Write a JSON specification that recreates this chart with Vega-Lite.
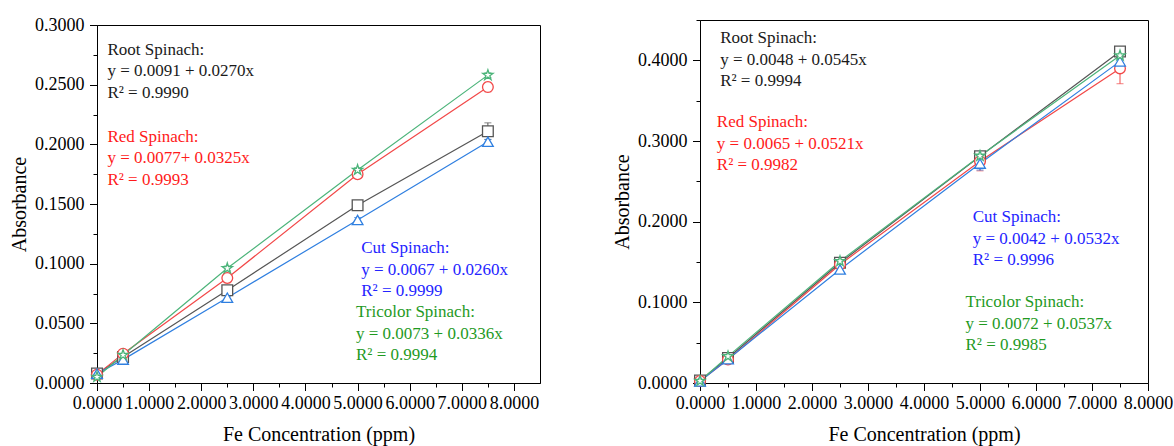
{
  "$schema": "https://vega.github.io/schema/vega-lite/v6.json",
  "background": "white",
  "padding": {"left": 9, "top": 10, "right": 5, "bottom": 5},
  "spacing": 71,
  "config": {
    "font": "Liberation Serif",
    "view": {"stroke": "black", "strokeWidth": 1},
    "axis": {
      "labelFont": "Liberation Serif", "labelFontSize": 18, "labelColor": "black",
      "titleFont": "Liberation Serif", "titleFontSize": 20, "titleFontWeight": "normal", "titleColor": "black",
      "tickColor": "black", "domainColor": "black", "grid": false,
      "labelOverlap": false, "labelFlush": false, "labelBound": false
    },
    "axisX": {"titlePadding": 12, "labelPadding": 4},
    "axisY": {"titlePadding": 5, "labelPadding": 5.5}
  },
  "datasets": {
    "pts": [
      {"panel": "A", "series": "Root", "conc": 0, "abs": 0.008, "lo": 0.007, "hi": 0.009},
      {"panel": "A", "series": "Root", "conc": 0.5, "abs": 0.0218, "lo": 0.0208, "hi": 0.0228},
      {"panel": "A", "series": "Root", "conc": 2.5, "abs": 0.0777, "lo": 0.0757, "hi": 0.0797},
      {"panel": "A", "series": "Root", "conc": 5, "abs": 0.149, "lo": 0.147, "hi": 0.151},
      {"panel": "A", "series": "Root", "conc": 7.5, "abs": 0.211, "lo": 0.204, "hi": 0.218},
      {"panel": "A", "series": "Red", "conc": 0, "abs": 0.007, "lo": 0.006, "hi": 0.008},
      {"panel": "A", "series": "Red", "conc": 0.5, "abs": 0.0246, "lo": 0.0226, "hi": 0.0266},
      {"panel": "A", "series": "Red", "conc": 2.5, "abs": 0.088, "lo": 0.084, "hi": 0.092},
      {"panel": "A", "series": "Red", "conc": 5, "abs": 0.175, "lo": 0.172, "hi": 0.178},
      {"panel": "A", "series": "Red", "conc": 7.5, "abs": 0.248, "lo": 0.244, "hi": 0.252},
      {"panel": "A", "series": "Cut", "conc": 0, "abs": 0.0078, "lo": 0.0068, "hi": 0.0088},
      {"panel": "A", "series": "Cut", "conc": 0.5, "abs": 0.0196, "lo": 0.0186, "hi": 0.0206},
      {"panel": "A", "series": "Cut", "conc": 2.5, "abs": 0.0715, "lo": 0.0695, "hi": 0.0735},
      {"panel": "A", "series": "Cut", "conc": 5, "abs": 0.1366, "lo": 0.1346, "hi": 0.1386},
      {"panel": "A", "series": "Cut", "conc": 7.5, "abs": 0.2022, "lo": 0.2002, "hi": 0.2042},
      {"panel": "A", "series": "Tricolor", "conc": 0, "abs": 0.005, "lo": 0.004, "hi": 0.006},
      {"panel": "A", "series": "Tricolor", "conc": 0.5, "abs": 0.0235, "lo": 0.0215, "hi": 0.0255},
      {"panel": "A", "series": "Tricolor", "conc": 2.5, "abs": 0.0961, "lo": 0.0941, "hi": 0.0981},
      {"panel": "A", "series": "Tricolor", "conc": 5, "abs": 0.1785, "lo": 0.1765, "hi": 0.1805},
      {"panel": "A", "series": "Tricolor", "conc": 7.5, "abs": 0.258, "lo": 0.256, "hi": 0.26},
      {"panel": "B", "series": "Root", "conc": 0, "abs": 0.003, "lo": 0.002, "hi": 0.004},
      {"panel": "B", "series": "Root", "conc": 0.5, "abs": 0.031, "lo": 0.029, "hi": 0.033},
      {"panel": "B", "series": "Root", "conc": 2.5, "abs": 0.149, "lo": 0.147, "hi": 0.151},
      {"panel": "B", "series": "Root", "conc": 5, "abs": 0.281, "lo": 0.278, "hi": 0.284},
      {"panel": "B", "series": "Root", "conc": 7.5, "abs": 0.411, "lo": 0.408, "hi": 0.414},
      {"panel": "B", "series": "Red", "conc": 0, "abs": 0.0025, "lo": 0.0005, "hi": 0.0045},
      {"panel": "B", "series": "Red", "conc": 0.5, "abs": 0.029, "lo": 0.027, "hi": 0.031},
      {"panel": "B", "series": "Red", "conc": 2.5, "abs": 0.147, "lo": 0.145, "hi": 0.149},
      {"panel": "B", "series": "Red", "conc": 5, "abs": 0.275, "lo": 0.263, "hi": 0.287},
      {"panel": "B", "series": "Red", "conc": 7.5, "abs": 0.39, "lo": 0.371, "hi": 0.409},
      {"panel": "B", "series": "Cut", "conc": 0, "abs": 0.002, "lo": 0.001, "hi": 0.003},
      {"panel": "B", "series": "Cut", "conc": 0.5, "abs": 0.0295, "lo": 0.0275, "hi": 0.0315},
      {"panel": "B", "series": "Cut", "conc": 2.5, "abs": 0.1408, "lo": 0.1388, "hi": 0.1428},
      {"panel": "B", "series": "Cut", "conc": 5, "abs": 0.272, "lo": 0.264, "hi": 0.28},
      {"panel": "B", "series": "Cut", "conc": 7.5, "abs": 0.3987, "lo": 0.3957, "hi": 0.4017},
      {"panel": "B", "series": "Tricolor", "conc": 0, "abs": 0.0025, "lo": 0.0015, "hi": 0.0035},
      {"panel": "B", "series": "Tricolor", "conc": 0.5, "abs": 0.033, "lo": 0.031, "hi": 0.035},
      {"panel": "B", "series": "Tricolor", "conc": 2.5, "abs": 0.151, "lo": 0.149, "hi": 0.153},
      {"panel": "B", "series": "Tricolor", "conc": 5, "abs": 0.2815, "lo": 0.2785, "hi": 0.2845},
      {"panel": "B", "series": "Tricolor", "conc": 7.5, "abs": 0.406, "lo": 0.403, "hi": 0.409}
    ],
    "ann": [
      {"panel": "A", "series": "Root", "conc": 0.2, "abs": 0.2858, "text": "Root Spinach:\ny = 0.0091 + 0.0270x\nR² = 0.9990"},
      {"panel": "A", "series": "Red", "conc": 0.2, "abs": 0.2129, "text": "Red Spinach:\ny = 0.0077+ 0.0325x\nR² = 0.9993"},
      {"panel": "A", "series": "Cut", "conc": 5.07, "abs": 0.1198, "text": "Cut Spinach:\ny = 0.0067 + 0.0260x\nR² = 0.9999"},
      {"panel": "A", "series": "Tricolor", "conc": 4.97, "abs": 0.0662, "text": "Tricolor Spinach:\ny = 0.0073 + 0.0336x\nR² = 0.9994"},
      {"panel": "B", "series": "Root", "conc": 0.36, "abs": 0.4372, "text": "Root Spinach:\ny = 0.0048 + 0.0545x\nR² = 0.9994"},
      {"panel": "B", "series": "Red", "conc": 0.3, "abs": 0.3331, "text": "Red Spinach:\ny = 0.0065 + 0.0521x\nR² = 0.9982"},
      {"panel": "B", "series": "Cut", "conc": 4.87, "abs": 0.2155, "text": "Cut Spinach:\ny = 0.0042 + 0.0532x\nR² = 0.9996"},
      {"panel": "B", "series": "Tricolor", "conc": 4.74, "abs": 0.1102, "text": "Tricolor Spinach:\ny = 0.0072 + 0.0537x\nR² = 0.9985"}
    ],
    "blank": [{"k": 1}]
  },
  "hconcat": [
    {
      "vconcat": [
        {
          "width": 443, "height": 1,
          "view": {"stroke": null},
          "data": {"name": "blank"},
          "mark": {"type": "point", "opacity": 0},
          "encoding": {}
        },
        {
          "width": 443, "height": 358,
          "encoding": {
            "x": {"field": "conc", "type": "quantitative", "scale": {"domain": [0, 8.5], "nice": false, "zero": false},
                  "axis": {"values": [0, 0.5, 1, 1.5, 2, 2.5, 3, 3.5, 4, 4.5, 5, 5.5, 6, 6.5, 7, 7.5, 8],
                           "labelExpr": "round(datum.value * 2) % 2 == 0 ? format(datum.value, '.4f') : ''",
                           "tickSize": {"condition": {"test": "round(datum.value * 2) % 2 == 0", "value": 7.5}, "value": 4},
                           "title": "Fe Concentration (ppm)"}},
            "y": {"field": "abs", "type": "quantitative", "scale": {"domain": [0, 0.3], "nice": false},
                  "axis": {"values": [0, 0.025, 0.05, 0.075, 0.1, 0.125, 0.15, 0.175, 0.2, 0.225, 0.25, 0.275, 0.3],
                           "labelExpr": "round(datum.value * 40) % 2 == 0 ? format(datum.value, '.4f') : ''",
                           "tickSize": {"condition": {"test": "round(datum.value * 40) % 2 == 0", "value": 7.5}, "value": 4},
                           "title": "Absorbance"}}
          },
          "layer": [
            {
              "data": {"name": "pts"},
              "transform": [{"filter": "datum.panel == 'A'"}],
              "mark": {"type": "line", "strokeWidth": 1.2},
              "encoding": {
                "stroke": {"field": "series", "type": "nominal", "legend": null,
                           "scale": {"domain": ["Root", "Red", "Cut", "Tricolor"], "range": ["#555555", "#f24848", "#2f7fe0", "#4cb47a"]}}
              }
            },
            {
              "data": {"name": "pts"},
              "transform": [{"filter": "datum.panel == 'A'"}],
              "mark": {"type": "rule", "strokeWidth": 1},
              "encoding": {
                "y": {"field": "lo", "type": "quantitative"},
                "y2": {"field": "hi"},
                "stroke": {"field": "series", "type": "nominal", "legend": null}
              }
            },
            {
              "data": {"name": "pts"},
              "transform": [{"filter": "datum.panel == 'A'"}],
              "mark": {"type": "point", "shape": "stroke", "size": 49, "strokeWidth": 1},
              "encoding": {
                "y": {"field": "lo", "type": "quantitative"},
                "stroke": {"field": "series", "type": "nominal", "legend": null}
              }
            },
            {
              "data": {"name": "pts"},
              "transform": [{"filter": "datum.panel == 'A'"}],
              "mark": {"type": "point", "shape": "stroke", "size": 49, "strokeWidth": 1},
              "encoding": {
                "y": {"field": "hi", "type": "quantitative"},
                "stroke": {"field": "series", "type": "nominal", "legend": null}
              }
            },
            {
              "data": {"name": "pts"},
              "transform": [{"filter": "datum.panel == 'A'"}],
              "mark": {"type": "point", "fill": "white", "fillOpacity": 1, "strokeWidth": 1.3, "size": 115, "opacity": 1},
              "encoding": {
                "stroke": {"field": "series", "type": "nominal", "legend": null},
                "shape": {"field": "series", "type": "nominal", "legend": null,
                          "scale": {"domain": ["Root", "Red", "Cut", "Tricolor"], "range": ["square", "circle", "triangle-up", "M0,-1L0.2245,-0.309L0.951,-0.309L0.363,0.118L0.588,0.809L0,0.382L-0.588,0.809L-0.363,0.118L-0.951,-0.309L-0.2245,-0.309Z"]}}
              }
            },
            {
              "data": {"name": "ann"},
              "transform": [{"filter": "datum.panel == 'A'"}],
              "mark": {"type": "text", "align": "left", "baseline": "top", "fontSize": 17, "font": "Liberation Serif", "lineBreak": "\n", "lineHeight": 21.5},
              "encoding": {
                "text": {"field": "text"},
                "color": {"field": "series", "type": "nominal", "legend": null,
                          "scale": {"domain": ["Root", "Red", "Cut", "Tricolor"], "range": ["#1a1a1a", "#ff1a1a", "#2424ff", "#1f9a1f"]}}
              }
            }
          ]
        }
      ],
      "spacing": 4,
      "bounds": "flush"
    },
    {
      "width": 448, "height": 363,
      "encoding": {
        "x": {"field": "conc", "type": "quantitative", "scale": {"domain": [0, 8], "nice": false, "zero": false},
              "axis": {"values": [0, 0.5, 1, 1.5, 2, 2.5, 3, 3.5, 4, 4.5, 5, 5.5, 6, 6.5, 7, 7.5, 8],
                       "labelExpr": "round(datum.value * 2) % 2 == 0 ? format(datum.value, '.4f') : ''",
                       "tickSize": {"condition": {"test": "round(datum.value * 2) % 2 == 0", "value": 7.5}, "value": 4},
                       "title": "Fe Concentration (ppm)"}},
        "y": {"field": "abs", "type": "quantitative", "scale": {"domain": [0, 0.45], "nice": false},
              "axis": {"values": [0, 0.05, 0.1, 0.15, 0.2, 0.25, 0.3, 0.35, 0.4, 0.45],
                       "labelExpr": "round(datum.value * 20) % 2 == 0 ? format(datum.value, '.4f') : ''",
                       "tickSize": {"condition": {"test": "round(datum.value * 20) % 2 == 0", "value": 7.5}, "value": 4},
                       "title": "Absorbance"}}
      },
      "layer": [
        {
          "data": {"name": "pts"},
          "transform": [{"filter": "datum.panel == 'B'"}],
          "mark": {"type": "line", "strokeWidth": 1.2},
          "encoding": {
            "stroke": {"field": "series", "type": "nominal", "legend": null,
                       "scale": {"domain": ["Root", "Red", "Cut", "Tricolor"], "range": ["#555555", "#f24848", "#2f7fe0", "#4cb47a"]}}
          }
        },
        {
          "data": {"name": "pts"},
          "transform": [{"filter": "datum.panel == 'B'"}],
          "mark": {"type": "rule", "strokeWidth": 1},
          "encoding": {
            "y": {"field": "lo", "type": "quantitative"},
            "y2": {"field": "hi"},
            "stroke": {"field": "series", "type": "nominal", "legend": null}
          }
        },
        {
          "data": {"name": "pts"},
          "transform": [{"filter": "datum.panel == 'B'"}],
          "mark": {"type": "point", "shape": "stroke", "size": 49, "strokeWidth": 1},
          "encoding": {
            "y": {"field": "lo", "type": "quantitative"},
            "stroke": {"field": "series", "type": "nominal", "legend": null}
          }
        },
        {
          "data": {"name": "pts"},
          "transform": [{"filter": "datum.panel == 'B'"}],
          "mark": {"type": "point", "shape": "stroke", "size": 49, "strokeWidth": 1},
          "encoding": {
            "y": {"field": "hi", "type": "quantitative"},
            "stroke": {"field": "series", "type": "nominal", "legend": null}
          }
        },
        {
          "data": {"name": "pts"},
          "transform": [{"filter": "datum.panel == 'B'"}],
          "mark": {"type": "point", "fill": "white", "fillOpacity": 1, "strokeWidth": 1.3, "size": 115, "opacity": 1},
          "encoding": {
            "stroke": {"field": "series", "type": "nominal", "legend": null},
            "shape": {"field": "series", "type": "nominal", "legend": null,
                      "scale": {"domain": ["Root", "Red", "Cut", "Tricolor"], "range": ["square", "circle", "triangle-up", "M0,-1L0.2245,-0.309L0.951,-0.309L0.363,0.118L0.588,0.809L0,0.382L-0.588,0.809L-0.363,0.118L-0.951,-0.309L-0.2245,-0.309Z"]}}
          }
        },
        {
          "data": {"name": "ann"},
          "transform": [{"filter": "datum.panel == 'B'"}],
          "mark": {"type": "text", "align": "left", "baseline": "top", "fontSize": 17, "font": "Liberation Serif", "lineBreak": "\n", "lineHeight": 21.5},
          "encoding": {
            "text": {"field": "text"},
            "color": {"field": "series", "type": "nominal", "legend": null,
                      "scale": {"domain": ["Root", "Red", "Cut", "Tricolor"], "range": ["#1a1a1a", "#ff1a1a", "#2424ff", "#1f9a1f"]}}
          }
        }
      ]
    }
  ]
}
